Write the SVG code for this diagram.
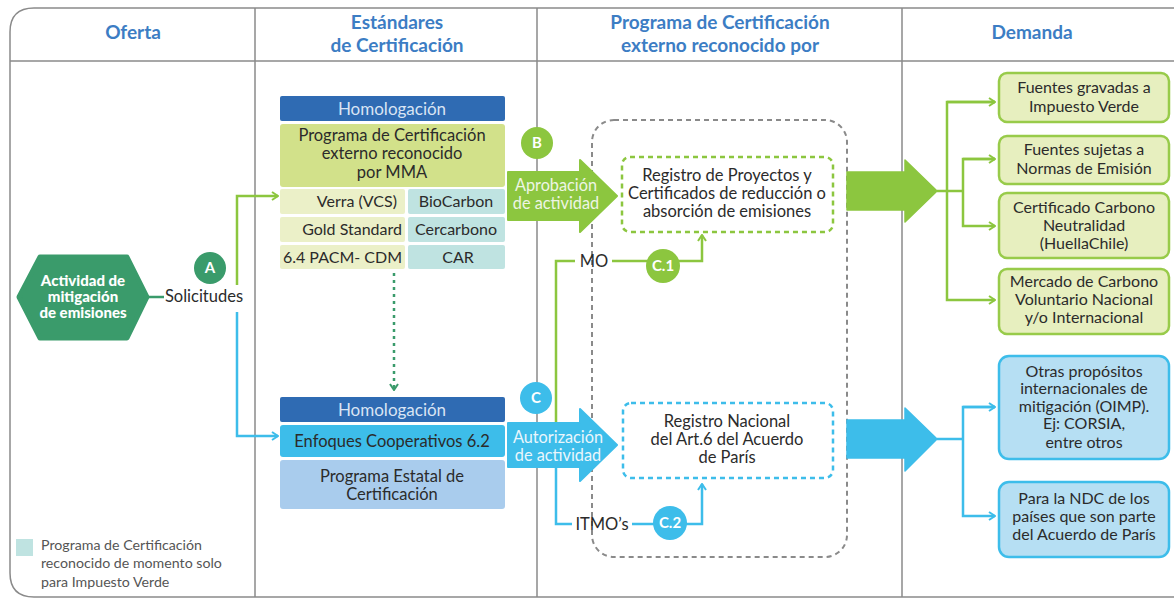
<svg xmlns="http://www.w3.org/2000/svg" width="1174" height="599" viewBox="0 0 1174 599">
<style>
text{font-family:Lato,"Open Sans","Liberation Sans",sans-serif;}
.hd{font-size:19px;font-weight:700;fill:#3c7dc4;text-anchor:middle;}
.t{font-size:16.5px;fill:#2b2b2b;text-anchor:middle;}
.tr{font-size:16px;fill:#2b2b2b;text-anchor:middle;}
.tc{font-size:16px;fill:#2b2b2b;text-anchor:middle;}
.tl{font-size:16px;fill:#2b2b2b;text-anchor:end;}
.w{font-size:16.3px;fill:#eef5e4;text-anchor:middle;}
.wb{font-size:16.3px;fill:#eaf6fc;text-anchor:middle;}
.hom{font-size:17px;fill:#d9e4f4;text-anchor:middle;}
.cl{font-size:15px;font-weight:700;fill:#fff;text-anchor:middle;}
.hx{font-size:15px;font-weight:900;fill:#fff;text-anchor:middle;}
.lg{font-size:14.2px;fill:#555;}
.frame{fill:none;stroke:#8a8a8a;stroke-width:1.5;}
.g{fill:none;stroke:#8cc63f;stroke-width:2.5;}
.b{fill:none;stroke:#3dbdea;stroke-width:2.5;}
.gbox{fill:#e7efbf;stroke:#98cb4a;stroke-width:2.5;}
.bbox{fill:#b6dff3;stroke:#3dbdea;stroke-width:2.5;}
</style>
<defs>
<marker id="mg" viewBox="0 0 10 10" refX="9" refY="5" markerWidth="10" markerHeight="10" markerUnits="userSpaceOnUse" orient="auto"><path d="M3,1 L9,5 L3,9" fill="none" stroke="#8cc63f" stroke-width="2"/></marker>
<marker id="mb" viewBox="0 0 10 10" refX="9" refY="5" markerWidth="10" markerHeight="10" markerUnits="userSpaceOnUse" orient="auto"><path d="M3,1 L9,5 L3,9" fill="none" stroke="#3dbdea" stroke-width="2"/></marker>
<marker id="md" viewBox="0 0 10 10" refX="9" refY="5" markerWidth="10" markerHeight="10" markerUnits="userSpaceOnUse" orient="auto"><path d="M3,1 L9,5 L3,9" fill="none" stroke="#3a9b6b" stroke-width="2"/></marker>
</defs>

<g id="frame">
<path class="frame" d="M1180,8 H34 Q10,8 10,32 V573 Q10,597 34,597 H1180"/>
<line class="frame" x1="10" y1="61" x2="1174" y2="61"/>
<line class="frame" x1="255" y1="8" x2="255" y2="597"/>
<line class="frame" x1="537" y1="8" x2="537" y2="597"/>
<line class="frame" x1="902" y1="8" x2="902" y2="597"/>
<text class="hd" x="133" y="39">Oferta</text>
<text class="hd" x="397" y="29">Estándares</text>
<text class="hd" x="397" y="52">de Certificación</text>
<text class="hd" x="720" y="29">Programa de Certificación</text>
<text class="hd" x="720" y="52">externo reconocido por</text>
<text class="hd" x="1032" y="39">Demanda</text>
</g>

<g id="connectors">
<line x1="148" y1="297" x2="164" y2="297" stroke="#3a9b6b" stroke-width="2.5"/>
<path class="g" d="M237,285 V196 H278" marker-end="url(#mg)"/>
<path class="b" d="M237,312 V436 H278" marker-end="url(#mb)"/>
<line x1="394" y1="273" x2="394" y2="390" stroke="#3a9b6b" stroke-width="2.5" stroke-dasharray="3,4" marker-end="url(#md)"/>
<path class="g" d="M556,422 V261 H575"/>
<path class="g" d="M612,261 H702 V235" marker-end="url(#mg)"/>
<path class="b" d="M556,466 V524 H572"/>
<path class="b" d="M632,524 H702 V484" marker-end="url(#mb)"/>
<path class="g" d="M937,191 H963"/>
<path class="g" d="M995,102 H947 V300 H995" marker-end="url(#mg)"/>
<path class="g" d="M947,102 H995" marker-end="url(#mg)"/>
<path class="g" d="M995,159 H963 V226 H995" marker-end="url(#mg)"/>
<path class="g" d="M963,159 H995" marker-end="url(#mg)"/>
<path class="b" d="M937,439 H963"/>
<path class="b" d="M995,407 H963 V516 H995" marker-end="url(#mb)"/>
<path class="b" d="M963,407 H995" marker-end="url(#mb)"/>
</g>

<g id="actividad">
<polygon points="19,297 40,257 127,257 147,297 127,338 40,338" fill="#3a9b6b" stroke="#3a9b6b" stroke-width="5" stroke-linejoin="round"/>
<text class="hx" x="83" y="286">Actividad de</text>
<text class="hx" x="83" y="302">mitigación</text>
<text class="hx" x="83" y="318">de emisiones</text>
</g>
<g id="solicitudes">
<text class="t" x="204" y="302">Solicitudes</text>
<circle cx="210" cy="268" r="16" fill="#3a9b6b"/>
<text class="cl" x="210" y="273">A</text>
</g>

<g id="estandares-mma">
<rect x="280" y="96" width="225" height="25" rx="2" fill="#2f6bb3"/>
<text class="hom" x="392" y="115">Homologación</text>
<rect x="280" y="124" width="225" height="63" rx="3" fill="#d2e18a"/>
<text class="t" x="392" y="141">Programa de Certificación</text>
<text class="t" x="392" y="159">externo reconocido</text>
<text class="t" x="392" y="178">por MMA</text>
<rect x="280" y="189" width="125" height="25" rx="2" fill="#ebf0c8"/>
<rect x="408" y="189" width="97" height="25" rx="2" fill="#bfe3e1"/>
<rect x="280" y="217" width="125" height="25" rx="2" fill="#ebf0c8"/>
<rect x="408" y="217" width="97" height="25" rx="2" fill="#bfe3e1"/>
<rect x="280" y="245" width="125" height="24" rx="2" fill="#ebf0c8"/>
<rect x="408" y="245" width="97" height="24" rx="2" fill="#bfe3e1"/>
<text class="tl" x="397" y="207">Verra (VCS)</text>
<text class="tl" x="402" y="235">Gold Standard</text>
<text class="tl" x="402" y="263">6.4 PACM- CDM</text>
<text class="tc" x="456" y="207">BioCarbon</text>
<text class="tc" x="456" y="235">Cercarbono</text>
<text class="tc" x="458" y="263">CAR</text>
</g>

<g id="estandares-62">
<rect x="280" y="397" width="225" height="25" rx="2" fill="#2f6bb3"/>
<text class="hom" x="392" y="416">Homologación</text>
<rect x="280" y="425" width="225" height="32" rx="3" fill="#3dbdea"/>
<text class="t" x="392" y="447">Enfoques Cooperativos 6.2</text>
<rect x="280" y="460" width="225" height="49" rx="3" fill="#a9cced"/>
<text class="t" x="392" y="482">Programa Estatal de</text>
<text class="t" x="392" y="500">Certificación</text>
</g>

<g id="programa-externo">
<rect x="592" y="120" width="255" height="437" rx="22" fill="none" stroke="#8a8a8a" stroke-width="2" stroke-dasharray="5,4"/>
</g>

<g id="aprobacion">
<polygon points="508,172 580,172 580,160 617,196 580,232 580,220 508,220" fill="#8cc63f" stroke="#8cc63f" stroke-width="2" stroke-linejoin="round"/>
<text class="w" x="556" y="191">Aprobación</text>
<text class="w" x="556" y="209">de actividad</text>
<circle cx="537" cy="143" r="16" fill="#8cc63f"/>
<text class="cl" x="537" y="148">B</text>
</g>

<g id="autorizacion">
<polygon points="508,423 580,423 580,409 617,445 580,481 580,467 508,467" fill="#3dbdea" stroke="#3dbdea" stroke-width="2" stroke-linejoin="round"/>
<text class="wb" x="558" y="443">Autorización</text>
<text class="wb" x="558" y="461">de actividad</text>
<circle cx="536" cy="398" r="16" fill="#3dbdea"/>
<text class="cl" x="536" y="403">C</text>
</g>

<g id="registro-proyectos">
<rect x="622" y="157" width="211" height="75" rx="8" fill="#fff" stroke="#8cc63f" stroke-width="2.5" stroke-dasharray="5,4"/>
<text class="t" x="727" y="181">Registro de Proyectos y</text>
<text class="t" x="727" y="199">Certificados de reducción o</text>
<text class="t" x="727" y="217">absorción de emisiones</text>
</g>

<g id="registro-nacional">
<rect x="623" y="403" width="210" height="75" rx="8" fill="#fff" stroke="#3dbdea" stroke-width="2.5" stroke-dasharray="5,4"/>
<text class="t" x="727" y="427">Registro Nacional</text>
<text class="t" x="727" y="445">del Art.6 del Acuerdo</text>
<text class="t" x="727" y="463">de París</text>
</g>

<g id="mo">
<text class="t" x="594" y="267">MO</text>
<circle cx="663" cy="266" r="17" fill="#8cc63f"/>
<text class="cl" x="663" y="271">C.1</text>
</g>

<g id="itmos">
<text class="t" x="602" y="530">ITMO’s</text>
<circle cx="670" cy="523" r="17" fill="#3dbdea"/>
<text class="cl" x="670" y="528">C.2</text>
</g>

<g id="flecha-verde">
<polygon points="847,172 905,172 905,160 937,191 905,222 905,210 847,210" fill="#8cc63f" stroke="#8cc63f" stroke-width="1.5" stroke-linejoin="round"/>
</g>
<g id="flecha-azul">
<polygon points="847,420 905,420 905,408 937,439 905,471 905,458 847,458" fill="#3dbdea" stroke="#3dbdea" stroke-width="1.5" stroke-linejoin="round"/>
</g>

<g id="d1">
<rect class="gbox" x="999" y="73" width="170" height="49" rx="8"/>
<text class="tr" x="1084" y="93">Fuentes gravadas a</text>
<text class="tr" x="1084" y="112">Impuesto Verde</text>
</g>
<g id="d2">
<rect class="gbox" x="999" y="136" width="170" height="48" rx="8"/>
<text class="tr" x="1084" y="155">Fuentes sujetas a</text>
<text class="tr" x="1084" y="174">Normas de Emisión</text>
</g>
<g id="d3">
<rect class="gbox" x="999" y="193" width="170" height="65" rx="8"/>
<text class="tr" x="1084" y="213">Certificado Carbono</text>
<text class="tr" x="1084" y="231">Neutralidad</text>
<text class="tr" x="1084" y="249">(HuellaChile)</text>
</g>
<g id="d4">
<rect class="gbox" x="999" y="269" width="170" height="65" rx="8"/>
<text class="tr" x="1084" y="287">Mercado de Carbono</text>
<text class="tr" x="1084" y="305">Voluntario Nacional</text>
<text class="tr" x="1084" y="323">y/o Internacional</text>
</g>
<g id="d5">
<rect class="bbox" x="999" y="356" width="170" height="103" rx="10"/>
<text class="tr" x="1084" y="377">Otras propósitos</text>
<text class="tr" x="1084" y="394">internacionales de</text>
<text class="tr" x="1084" y="412">mitigación (OIMP).</text>
<text class="tr" x="1084" y="429">Ej: CORSIA,</text>
<text class="tr" x="1084" y="448">entre otros</text>
</g>
<g id="d6">
<rect class="bbox" x="999" y="482" width="170" height="75" rx="10"/>
<text class="tr" x="1084" y="504">Para la NDC de los</text>
<text class="tr" x="1084" y="522">países que son parte</text>
<text class="tr" x="1084" y="540">del Acuerdo de París</text>
</g>

<g id="leyenda">
<rect x="16" y="539" width="17" height="17" fill="#bfe3e1"/>
<text class="lg" x="41" y="550">Programa de Certificación</text>
<text class="lg" x="41" y="568">reconocido de momento solo</text>
<text class="lg" x="41" y="587">para Impuesto Verde</text>
</g>
</svg>
